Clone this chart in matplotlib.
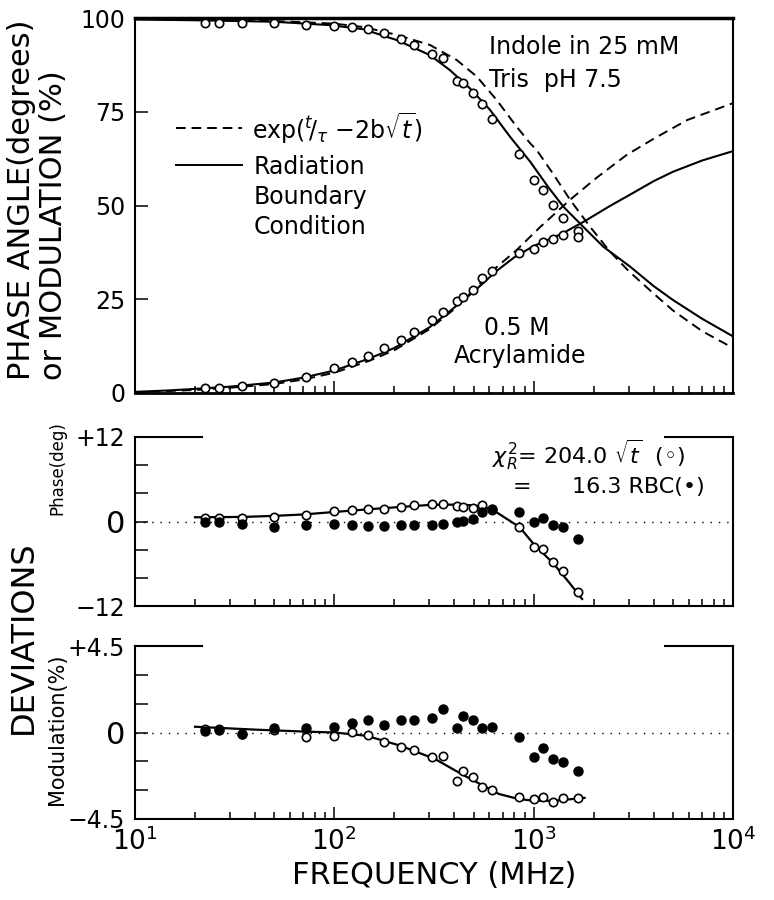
import matplotlib

matplotlib.use("Agg")
import matplotlib.pyplot as plt
from matplotlib.lines import Line2D
from matplotlib.ticker import NullFormatter

plt.rcParams["font.family"] = ["DejaVu Sans"]
plt.rcParams["mathtext.fontset"] = "dejavusans"

# measured frequencies (MHz)
FREQ = [22.5, 26.5, 34.5, 50, 72, 100, 122, 148, 178, 216, 252, 308, 350,
        411, 444, 498, 550, 616, 845, 1000, 1110, 1250, 1410, 1660]

# top panel data: phase angle (deg) and modulation (%)
PHASE = [1.3, 1.3, 2.0, 2.8, 4.4, 6.7, 8.4, 10.0, 12.0, 14.2, 16.4, 19.5, 21.7,
         24.6, 25.7, 27.6, 30.6, 32.6, 37.4, 38.4, 40.4, 41.2, 42.1, 43.2]
MODUL = [98.7, 98.8, 98.8, 98.7, 98.2, 97.9, 97.7, 97.2, 96.1, 94.3, 92.8, 90.3,
         89.4, 83.3, 82.7, 80.1, 77.1, 73.2, 63.7, 56.8, 54.1, 50.1, 46.6, 41.5]

# fitted curves, top panel
PH_RBC_F = [10, 15, 20, 30, 50, 70, 100, 150, 200, 300, 400, 500, 650, 800,
            1000, 1400, 1800, 2400, 3000, 4000, 5000, 7000, 10000]
PH_RBC = [0.3, 0.7, 1.1, 1.7, 2.8, 4.1, 6.0, 9.2, 12.0, 17.5, 22.8, 27.0, 32.5,
          36.2, 39.2, 42.6, 45.8, 49.8, 52.7, 56.5, 59.0, 62.0, 64.5]
PH_EXP_F = [10, 20, 30, 50, 70, 100, 150, 200, 300, 400, 500, 650, 820, 1080,
            1520, 2080, 2930, 4000, 5900, 10000]
PH_EXP = [0.2, 0.8, 1.4, 2.4, 3.6, 5.4, 8.6, 11.4, 17.0, 22.4, 27.5, 33.5, 38.1,
          44.3, 51.5, 57.5, 63.5, 67.8, 72.8, 77.3]
MOD_RBC_F = [10, 20, 50, 95, 140, 206, 302, 380, 480, 604, 762, 960, 1180, 1408,
             1775, 2237, 3047, 4000, 5000, 7000, 10000]
MOD_RBC = [99.6, 99.4, 99.0, 98.1, 97.0, 94.1, 90.1, 86.1, 81.2, 75.5, 68.3,
           61.7, 55.0, 49.7, 44.3, 39.0, 33.7, 28.5, 24.8, 19.8, 15.1]
MOD_EXP_F = [10, 20, 50, 100, 140, 206, 302, 411, 518, 653, 822, 960, 1035,
             1250, 1524, 1920, 2415, 3000, 4000, 5000, 7000, 10000]
MOD_EXP = [99.8, 99.6, 99.2, 98.5, 97.6, 95.5, 92.8, 88.8, 84.4, 78.1, 71.0,
           66.6, 64.8, 58.5, 51.5, 44.3, 37.7, 32.5, 26.5, 22.0, 16.5, 12.0]

# phase deviations (deg): sqrt(t) model (open), RBC (filled)
DPH_EXP = [0.56, 0.56, 0.56, 0.6, 0.93, 1.49, 1.59, 1.82, 1.72, 2.1, 2.33, 2.42,
           2.52, 2.19, 2.05, 1.86, 2.33, 1.6, -0.84, -3.64, -3.96, -5.73, -6.99,
           -10.07]
DPH_RBC = [-0.14, -0.14, -0.37, -0.75, -0.47, -0.37, -0.51, -0.61, -0.61, -0.51,
           -0.47, -0.51, -0.37, -0.05, 0.09, 0.33, 1.4, 1.72, 1.4, 0.0, 0.56,
           -0.47, -0.75, -2.47]
DPH_LINE_F = [20, 35, 50, 70, 100, 150, 200, 300, 400, 500, 560, 620, 850, 1000,
              1250, 1500, 1750]
DPH_LINE = [0.6, 0.65, 0.8, 1.0, 1.35, 1.75, 2.0, 2.35, 2.4, 2.3, 2.05, 1.7,
            -0.8, -3.2, -5.9, -8.6, -11.0]

# modulation deviations (%)
DMOD_EXP = [0.17, 0.17, -0.09, 0.14, -0.22, -0.17, 0.03, -0.12, -0.48, -0.78,
            -0.92, -1.26, -1.21, -2.51, -1.99, -2.34, -2.85, -2.98, -3.37, -3.46,
            -3.37, -3.63, -3.41, -3.43]
DMOD_RBC = [0.09, 0.12, -0.09, 0.26, 0.26, 0.29, 0.47, 0.64, 0.38, 0.64, 0.64,
            0.78, 1.21, 0.22, 0.87, 0.64, 0.26, 0.31, -0.26, -1.30, -0.83, -1.38,
            -1.51, -2.02]
DMOD_LINE_F = [20, 40, 70, 100, 145, 215, 320, 450, 670, 840, 1000, 1280, 1800]
DMOD_LINE = [0.3, 0.15, 0.05, 0.0, -0.17, -0.69, -1.38, -2.25, -3.2, -3.46,
             -3.55, -3.55, -3.4]

# ticks
X_TICKS = [10, 100, 1000, 10000]
X_LABELS = ["$10^{1}$", "$10^{2}$", "$10^{3}$", "$10^{4}$"]
TOP_TICKS = [0, 25, 50, 75, 100]
PH_TICKS = [-12, -8, -4, 0, 4, 8, 12]
PH_LABELS = ["\u221212", "", "", "0", "", "", "+12"]
MOD_TICKS = [-4.5, -3, -1.5, 0, 1.5, 3, 4.5]
MOD_LABELS = ["\u22124.5", "", "", "0", "", "", "+4.5"]

W, H = 774, 900


def fx(px):
    return px / W


def fy(py):
    return 1 - py / H


def style(ax):
    ax.set_xscale("log")
    ax.set_xlim(10, 1e4)
    ax.xaxis.set_minor_formatter(NullFormatter())
    ax.tick_params(which="both", direction="in", top=False, right=False,
                   width=1.1, colors="k", labelsize=17, pad=7)
    ax.tick_params(which="major", length=9)
    ax.tick_params(which="minor", length=5)
    for sp in ax.spines.values():
        sp.set_linewidth(1.5)


def open_pts(ax, x, y):
    ax.plot(x, y, "o", ls="none", mfc="white", mec="k", ms=6, mew=1.2, zorder=4)


def filled_pts(ax, x, y):
    ax.plot(x, y, "o", ls="none", color="k", ms=6.5, zorder=4)


fig = plt.figure(figsize=(W / 100, H / 100), dpi=100)
ax1 = fig.add_axes([fx(135), fy(393), fx(733) - fx(135), (393 - 18) / H])
ax2 = fig.add_axes([fx(135), fy(606), fx(733) - fx(135), (606 - 437) / H])
ax3 = fig.add_axes([fx(135), fy(819), fx(733) - fx(135), (819 - 646) / H])

# ---- top panel
style(ax1)
dash = (0, (5, 3))
ax1.plot(PH_RBC_F, PH_RBC, color="k", lw=1.5)
ax1.plot(PH_EXP_F, PH_EXP, color="k", lw=1.4, ls=dash)
ax1.plot(MOD_RBC_F, MOD_RBC, color="k", lw=1.5)
ax1.plot(MOD_EXP_F, MOD_EXP, color="k", lw=1.4, ls=dash)
open_pts(ax1, FREQ, PHASE)
open_pts(ax1, FREQ, MODUL)
ax1.set_ylim(0, 100)
ax1.set_yticks(TOP_TICKS)
ax1.tick_params(labelbottom=False)
ax1.spines["top"].set_linewidth(2.5)
ax1.spines["bottom"].set_linewidth(2.0)

# ---- phase deviations
style(ax2)
ax2.axhline(0, color="k", lw=1.0, ls=(0, (1, 5)))
ax2.plot(DPH_LINE_F, DPH_LINE, color="k", lw=1.6)
open_pts(ax2, FREQ, DPH_EXP)
filled_pts(ax2, FREQ, DPH_RBC)
ax2.set_ylim(-12, 12)
ax2.set_yticks(PH_TICKS)
ax2.set_yticklabels(PH_LABELS)
ax2.tick_params(labelbottom=False)

# ---- modulation deviations
style(ax3)
ax3.axhline(0, color="k", lw=1.0, ls=(0, (1, 5)))
ax3.plot(DMOD_LINE_F, DMOD_LINE, color="k", lw=1.6)
open_pts(ax3, FREQ, DMOD_EXP)
filled_pts(ax3, FREQ, DMOD_RBC)
ax3.set_ylim(-4.5, 4.5)
ax3.set_yticks(MOD_TICKS)
ax3.set_yticklabels(MOD_LABELS)
ax3.set_xticks(X_TICKS)
ax3.set_xticklabels(X_LABELS, fontsize=19)
ax3.tick_params(axis="x", which="major", pad=6)

for ax in (ax2, ax3):
    ax.spines["top"].set_visible(False)
    top = ax.get_ylim()[1]
    ax.axhline(top, xmax=0.112, color="k", lw=1.5, clip_on=False)
    ax.axhline(top, xmin=0.886, color="k", lw=1.5, clip_on=False)
    for lab in ax.get_yticklabels():
        if lab.get_text() == "0":
            lab.set_fontsize(22)

ax1.set_xticks(X_TICKS)
ax2.set_xticks(X_TICKS)

# ---- annotations
txt = dict(fontsize=17, color="k")
fig.text(fx(489), fy(47), "Indole in 25 mM", va="center", ha="left", **txt)
fig.text(fx(489), fy(80), "Tris  pH 7.5", va="center", ha="left", **txt)
fig.text(fx(517), fy(328), "0.5 M", va="center", ha="center", **txt)
fig.text(fx(520), fy(356), "Acrylamide", va="center", ha="center", **txt)

fig.add_artist(Line2D([fx(176), fx(242)], [fy(128), fy(128)], color="k",
                      lw=1.4, ls=dash))
fig.add_artist(Line2D([fx(176), fx(242)], [fy(165), fy(165)], color="k",
                      lw=1.4))
fig.text(fx(252), fy(128), r"exp($^{t}\!/_{\tau}$ $-$2b$\sqrt{t}$)",
         va="center", ha="left", **txt)
fig.text(fx(254), fy(167), "Radiation", va="center", ha="left", **txt)
fig.text(fx(254), fy(197), "Boundary", va="center", ha="left", **txt)
fig.text(fx(254), fy(227), "Condition", va="center", ha="left", **txt)

chi = dict(fontsize=16, color="k")
fig.text(fx(492), fy(455), r"$\chi^2_R$= 204.0 $\sqrt{t}$" + "  (\u25e6)",
         va="center", ha="left", **chi)
fig.text(fx(522), fy(487), "=", va="center", ha="center", **chi)
fig.text(fx(572), fy(487), "16.3 RBC(\u2022)", va="center", ha="left", **chi)

# ---- axis titles
fig.text(fx(22), fy(380), "PHASE ANGLE(degrees)", rotation=90, ha="center",
         va="bottom", fontsize=22)
fig.text(fx(53), fy(380), "or MODULATION (%)", rotation=90, ha="center",
         va="bottom", fontsize=22)
fig.text(fx(23), fy(637), "DEVIATIONS", rotation=90, ha="center",
         va="center", fontsize=23)
fig.text(fx(57), fy(468), "Phase(deg)", rotation=90, ha="center",
         va="center", fontsize=12)
fig.text(fx(57), fy(729), "Modulation(%)", rotation=90, ha="center",
         va="center", fontsize=15)
fig.text(fx(434), fy(875), "FREQUENCY (MHz)", ha="center", va="center",
         fontsize=22)

fig.savefig("out.png", dpi=100)
